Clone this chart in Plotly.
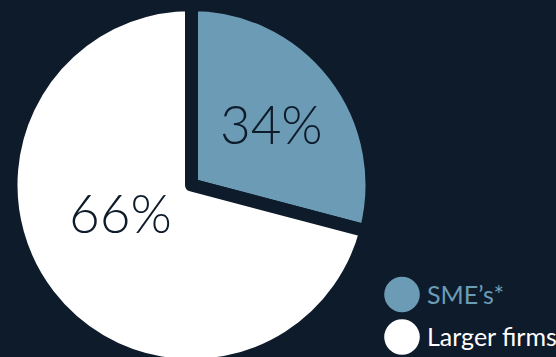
import plotly.graph_objects as go

# ---- data ----
labels = ["SME\u2019s*", "Larger firms"]
arc_share = [29.1, 70.9]          # slice sizes as drawn in the picture
pct_label = ["34%", "66%"]        # printed labels
colors = ["#6c9bb5", "#ffffff"]

BG = "#0e1b2a"
W, H = 556, 370

def px_x(x):
    return x / W

def px_y(y):
    return 1 - y / H

fig = go.Figure()
fig.add_trace(go.Pie(
    labels=labels,
    values=arc_share,
    text=pct_label,
    texttemplate=["%{text}", ""],
    textposition="inside",
    insidetextorientation="horizontal",
    textfont=dict(family="Lato", size=53, color=BG, weight=300),
    marker=dict(colors=colors, line=dict(color=BG, width=13)),
    sort=False,
    direction="clockwise",
    rotation=0,
    showlegend=False,
    hoverinfo="skip",
    domain=dict(x=[px_x(11), px_x(372)], y=[0, 1]),
))

annotations = [
    dict(x=px_x(120), y=px_y(212), xref="paper", yref="paper",
         text=pct_label[1], showarrow=False, xanchor="center", yanchor="middle",
         font=dict(family="Lato", size=53, color=BG, weight=300)),
]
shapes = []
legend_y = [294.5, 337]
for lab, col, yy in zip(labels, colors, legend_y):
    shapes.append(dict(type="circle", xref="paper", yref="paper",
                       xsizemode="pixel", ysizemode="pixel",
                       xanchor=px_x(402), yanchor=px_y(yy),
                       x0=-17.8, x1=17.8, y0=-17.8, y1=17.8,
                       fillcolor=col, line=dict(width=0)))
    annotations.append(dict(x=px_x(425), y=px_y(yy - 1), xref="paper", yref="paper",
                            text=lab, showarrow=False, xanchor="left", yanchor="middle",
                            font=dict(family="Lato", size=25, color=col)))

fig.update_layout(
    width=W, height=H,
    margin=dict(l=0, r=0, t=0, b=0),
    paper_bgcolor=BG, plot_bgcolor=BG,
    shapes=shapes, annotations=annotations,
)
fig.write_html("out.html")
